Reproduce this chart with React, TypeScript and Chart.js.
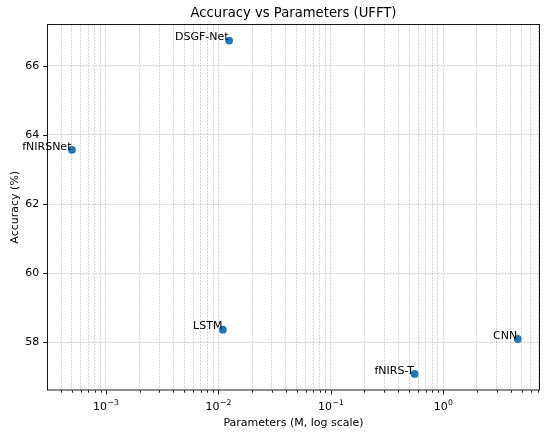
import React, { useEffect, useRef } from "react";
import { Chart, registerables } from "chart.js";

Chart.register(...registerables);

// ---- data ----
const models = ["DSGF-Net", "fNIRSNet", "LSTM", "fNIRS-T", "CNN"];
const paramsM = [0.0125, 0.0005, 0.011, 0.558, 4.61];
const accuracy = [66.73, 63.57, 58.37, 57.09, 58.1];

const yTickValues = [58, 60, 62, 64, 66];
const xMajorValues = [0.001, 0.01, 0.1, 1];
const xMajorBase = ["10", "10", "10", "10"];
const xMajorExponents = ["\u22123", "\u22122", "\u22121", "0"];
const xMinorMantissas = [2, 3, 4, 5, 6, 7, 8, 9];

const titleText = "Accuracy vs Parameters (UFFT)";
const xTitle = "Parameters (M, log scale)";
const yTitle = "Accuracy (%)";

const X_MIN = 3.15e-4;
const X_MAX = 7.28;
const Y_MIN = 56.61;
const Y_MAX = 67.21;

const FONT = "'DejaVu Sans', 'Liberation Sans', sans-serif";
const POINT_COLOR = "#1f77b4";
const GRID_COLOR = "rgba(170,170,170,0.9)";

function buildXTicks(): { value: number; major: boolean }[] {
  const out: { value: number; major: boolean }[] = [];
  for (let e = -4; e <= 0; e++) {
    const base = Math.pow(10, e);
    const vals = [1, ...xMinorMantissas];
    for (const m of vals) {
      const v = m * base;
      if (v >= X_MIN && v <= X_MAX) out.push({ value: v, major: m === 1 });
    }
  }
  return out;
}

const decorPlugin = {
  id: "decor",
  afterDatasetsDraw(chart: any) {
    const { ctx, chartArea: a, scales } = chart;
    ctx.save();

    // annotations
    const meta = chart.getDatasetMeta(0);
    ctx.font = `11px ${FONT}`;
    ctx.fillStyle = "#000";
    ctx.textAlign = "right";
    ctx.textBaseline = "alphabetic";
    meta.data.forEach((el: any, i: number) => {
      ctx.fillText(models[i], el.x - 0.5, el.y - 0.3);
    });

    // frame
    ctx.strokeStyle = "#000";
    ctx.lineWidth = 0.9;
    ctx.setLineDash([]);
    ctx.strokeRect(a.left + 0.5, a.top + 0.5, a.right - a.left - 1, a.bottom - a.top - 1);

    // x tick marks
    const xs = scales.x;
    xs.ticks.forEach((t: any) => {
      const px = Math.round(xs.getPixelForValue(t.value)) + 0.5;
      const len = t.major ? 3.9 : 2.2;
      ctx.beginPath();
      ctx.moveTo(px, a.bottom);
      ctx.lineTo(px, a.bottom + len);
      ctx.stroke();
    });
    // y tick marks
    const ys = scales.y;
    ys.ticks.forEach((t: any) => {
      const py = Math.round(ys.getPixelForValue(t.value)) + 0.5;
      ctx.beginPath();
      ctx.moveTo(a.left, py);
      ctx.lineTo(a.left - 3.9, py);
      ctx.stroke();
    });

    // x major tick labels (mathtext-like 10^n)
    ctx.fillStyle = "#000";
    ctx.textBaseline = "alphabetic";
    ctx.textAlign = "left";
    const baseY = a.bottom + 19;
    xMajorValues.forEach((v, i) => {
      if (v < X_MIN || v > X_MAX) return;
      const px = xs.getPixelForValue(v);
      ctx.font = `11px ${FONT}`;
      const wb = ctx.measureText(xMajorBase[i]).width;
      ctx.font = `7.7px ${FONT}`;
      const we = ctx.measureText(xMajorExponents[i]).width;
      const x0 = px - (wb + we) / 2;
      ctx.font = `11px ${FONT}`;
      ctx.fillText(xMajorBase[i], x0, baseY);
      ctx.font = `7.7px ${FONT}`;
      ctx.fillText(xMajorExponents[i], x0 + wb + 0.5, baseY - 4.8);
    });

    // title
    ctx.font = `13.2px ${FONT}`;
    ctx.textAlign = "center";
    ctx.textBaseline = "alphabetic";
    ctx.fillText(titleText, (a.left + a.right) / 2, 16.5);

    // axis titles
    ctx.font = `11px ${FONT}`;
    ctx.textBaseline = "middle";
    ctx.fillText(xTitle, (a.left + a.right) / 2, 423);
    ctx.save();
    ctx.translate(15, (a.top + a.bottom) / 2);
    ctx.rotate(-Math.PI / 2);
    ctx.fillText(yTitle, 0, 0);
    ctx.restore();

    ctx.restore();
  },
};

export default function App() {
  const ref = useRef<HTMLCanvasElement | null>(null);

  useEffect(() => {
    document.body.style.margin = "0";
    const canvas = ref.current;
    if (!canvas) return;
    const chart = new Chart(canvas, {
      type: "scatter",
      data: {
        datasets: [
          {
            data: paramsM.map((p, i) => ({ x: p, y: accuracy[i] })),
            backgroundColor: POINT_COLOR,
            borderColor: POINT_COLOR,
            borderWidth: 0,
            pointRadius: 3.9,
            pointHoverRadius: 3.9,
          },
        ],
      },
      options: {
        animation: false,
        responsive: false,
        devicePixelRatio: 1,
        layout: { padding: { top: 24, right: 10, left: 0, bottom: 0 } },
        plugins: {
          legend: { display: false },
          title: { display: false },
          tooltip: { enabled: false },
        },
        events: [],
        scales: {
          x: {
            type: "logarithmic",
            min: X_MIN,
            max: X_MAX,
            border: { display: false, dash: [2, 1.2] },
            grid: { color: GRID_COLOR, lineWidth: 0.6, drawTicks: false },
            ticks: {
              display: false,
              autoSkip: false,
              maxRotation: 0,
              minRotation: 0,
            },
            afterBuildTicks: (scale: any) => {
              scale.ticks = buildXTicks();
            },
            afterFit: (scale: any) => {
              scale.height = 43.5;
            },
          },
          y: {
            type: "linear",
            min: Y_MIN,
            max: Y_MAX,
            border: { display: false, dash: [2, 1.2] },
            grid: { color: GRID_COLOR, lineWidth: 0.6, drawTicks: false },
            ticks: {
              padding: 7.7,
              color: "#000",
              font: { family: FONT, size: 11 },
              callback: (v: any) => String(v),
            },
            afterBuildTicks: (scale: any) => {
              scale.ticks = yTickValues.map((v) => ({ value: v }));
            },
            afterFit: (scale: any) => {
              scale.width = 47;
            },
          },
        },
      },
      plugins: [decorPlugin],
    });
    return () => chart.destroy();
  }, []);

  return (
    <div style={{ position: "absolute", left: 0, top: 0, width: 550, height: 434 }}>
      <canvas ref={ref} width={550} height={434} style={{ width: 550, height: 434 }} />
    </div>
  );
}
